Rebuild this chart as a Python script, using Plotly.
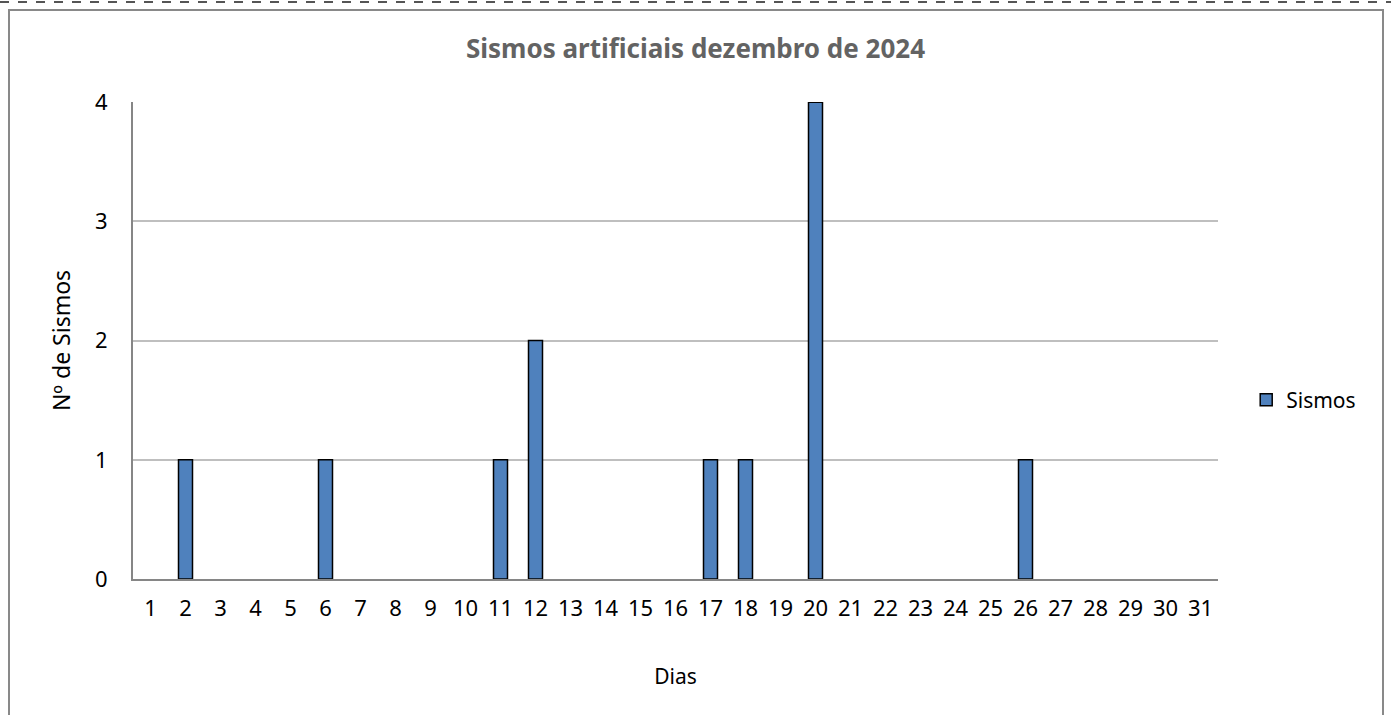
import plotly.graph_objects as go

days = [str(d) for d in range(1, 32)]
sismos = [0, 1, 0, 0, 0, 1, 0, 0, 0, 0,
          1, 2, 0, 0, 0, 0, 1, 1, 0, 4,
          0, 0, 0, 0, 0, 1, 0, 0, 0, 0, 0]
y_ticks = [0, 1, 2, 3, 4]

FONT = "Noto Sans, Open Sans, sans-serif"

# zero-valued days get no visible bar (no outlined sliver)
bar_y = [v if v != 0 else None for v in sismos]

W, H = 1391, 715
L, R, T, B = 133, 1218, 102, 579
pw, ph = R - L, B - T

fig = go.Figure()
fig.add_trace(go.Bar(
    x=days, y=bar_y, name="Sismos",
    marker=dict(color="#4F81BD", line=dict(color="#000000", width=1.5)),
    showlegend=True,
))

fig.update_layout(
    width=W, height=H,
    margin=dict(l=L, r=W - R, t=T, b=H - B, autoexpand=False),
    paper_bgcolor="white", plot_bgcolor="white",
    bargap=0.6,
    font=dict(family=FONT, color="#000000"),
    title=dict(text="<b>Sismos artificiais dezembro de 2024</b>",
               x=0.5, xref="container", xanchor="center",
               y=1 - 49 / H, yref="container", yanchor="middle",
               font=dict(size=26, color="#636363", family=FONT)),
    xaxis=dict(
        type="category", categoryorder="array", categoryarray=days,
        range=[-0.5, 30.5],
        showline=True, linecolor="#868686", linewidth=2,
        showgrid=False, ticks="", tickfont=dict(size=22),
        ticklabelstandoff=9,
        title=dict(text="Dias", font=dict(size=21), standoff=48),
    ),
    yaxis=dict(
        range=[0, 4.002], tickvals=y_ticks,
        showline=True, linecolor="#868686", linewidth=2,
        showgrid=True, gridcolor="#BFBFBF", gridwidth=1.5,
        zeroline=False, ticks="", tickfont=dict(size=22),
        ticklabelstandoff=19,
        title=dict(text="Nº de Sismos", font=dict(size=23), standoff=18),
    ),
    legend=dict(x=1.026, y=(B - 400) / ph, xanchor="left", yanchor="middle",
                font=dict(size=21), bgcolor="rgba(0,0,0,0)"),
)

# chart border and outer dashed line
fig.add_shape(type="rect", xref="paper", yref="paper",
              x0=(9 - L) / pw, x1=(1383 - L) / pw, y0=(B - 730) / ph, y1=(B - 10) / ph,
              line=dict(color="#898989", width=2), fillcolor="rgba(0,0,0,0)", layer="below")
fig.add_shape(type="line", xref="paper", yref="paper",
              x0=(0 - L) / pw, x1=(W - L) / pw, y0=(B - 2) / ph, y1=(B - 2) / ph,
              line=dict(color="#555555", width=2, dash="dash"))

fig.write_html("out.html",
               config={"displayModeBar": False},
               post_script="document.body.style.margin='0';document.body.style.padding='0';")
